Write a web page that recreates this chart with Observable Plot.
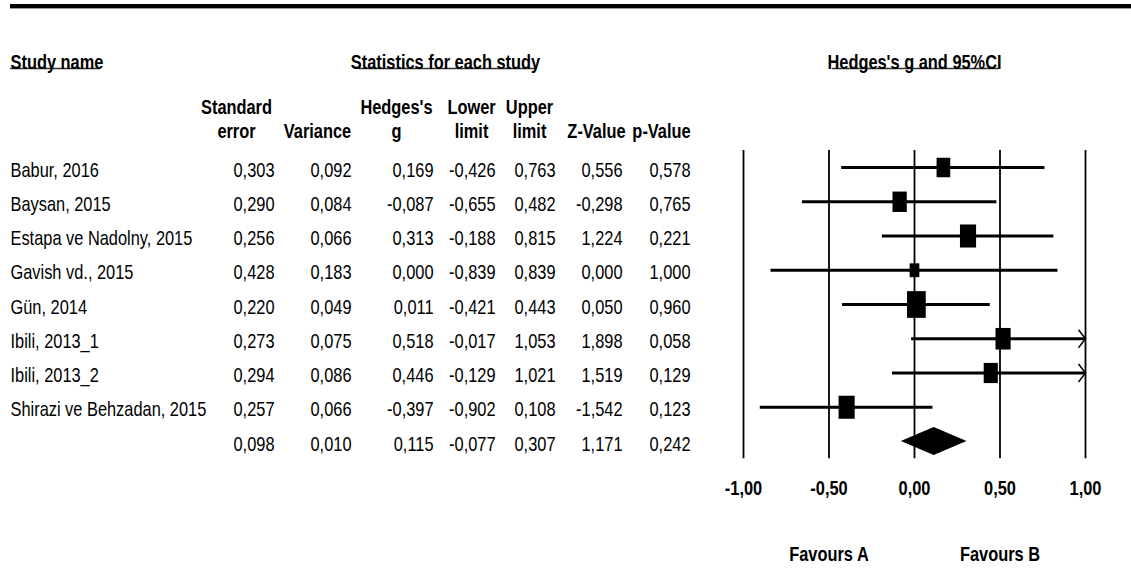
<!DOCTYPE html>
<html>
<head>
<meta charset="utf-8">
<script src="https://cdn.jsdelivr.net/npm/d3@7"></script>
<script src="https://cdn.jsdelivr.net/npm/@observablehq/plot@0.6"></script>
<style>
  body { margin: 0; background: #fff; }
  #chart { position: relative; width: 1131px; height: 574px; overflow: hidden; }
  #chart .topbar { position: absolute; left: 10px; right: 0; top: 4px; height: 4px; background: #000; border-bottom: 1px solid #999; }
  #chart svg { position: absolute; left: 0; top: 0; }
</style>
</head>
<body>
<div id="chart"><div class="topbar"></div></div>
<script>
// Study-level statistics (last entry is the pooled estimate)
const studies = ["Babur, 2016", "Baysan, 2015", "Estapa ve Nadolny, 2015", "Gavish vd., 2015", "Gün, 2014", "Ibili, 2013_1", "Ibili, 2013_2", "Shirazi ve Behzadan, 2015", ""];
const standardError = [0.303, 0.290, 0.256, 0.428, 0.220, 0.273, 0.294, 0.257, 0.098];
const variance = [0.092, 0.084, 0.066, 0.183, 0.049, 0.075, 0.086, 0.066, 0.010];
const hedgesG = [0.169, -0.087, 0.313, 0.000, 0.011, 0.518, 0.446, -0.397, 0.115];
const lowerLimit = [-0.426, -0.655, -0.188, -0.839, -0.421, -0.017, -0.129, -0.902, -0.077];
const upperLimit = [0.763, 0.482, 0.815, 0.839, 0.443, 1.053, 1.021, 0.108, 0.307];
const zValue = [0.556, -0.298, 1.224, 0.000, 0.050, 1.898, 1.519, -1.542, 1.171];
const pValue = [0.578, 0.765, 0.221, 1.000, 0.960, 0.058, 0.129, 0.123, 0.242];

const axisTicks = [-1, -0.5, 0, 0.5, 1];
const favourLabels = ["Favours A", "Favours B"];
const favourAt = [-0.5, 0.5];

const headingTitles = ["Study name", "Statistics for each study", "Hedges's g and 95%CI"];
const columnHeadTop = ["Standard", "", "Hedges's", "Lower", "Upper", "", ""];
const columnHeadBottom = ["error", "Variance", "g", "limit", "limit", "Z-Value", "p-Value"];

// Layout of the table (pixel positions)
const columnRight = [274, 351, 433, 495, 555, 622, 690];
const columnCenter = [236, 317, 396, 471, 529, 596, 661];
const headingSpan = [[10, 100], [359, 535], [832, 998]];
const headingAnchor = [{dx: 10, anchor: "start"}, {dx: 445, anchor: "middle"}, {dx: 914, anchor: "middle"}];
const FONT = "'Liberation Sans', Arial, sans-serif";
const FS = 21;
const NARROW = 0.78; // horizontal squeeze for a narrow face

// Pixel frame of the forest panel
const xRange = [743, 1085];
const yRange = [167, 441];
const xPx = d3.scaleLinear([-1, 1], xRange);
const yPx = d3.scaleLinear([0, 8], yRange);

const locale = d3.formatLocale({decimal: ",", thousands: ".", grouping: [3], currency: ["", ""], minus: "-"});
const f3 = locale.format(".3f");
const f2 = locale.format(".2f");

const rows = studies.map((name, i) => ({
  row: i,
  name,
  se: standardError[i],
  variance: variance[i],
  g: hedgesG[i],
  lower: lowerLimit[i],
  upper: upperLimit[i],
  z: zValue[i],
  p: pValue[i],
  end: Math.min(upperLimit[i], 1)
}));
const studyRows = rows.slice(0, 8);
const pooled = rows[8];

// Weight box: area proportional to inverse variance, taller than wide
const box = {
  draw(ctx, size) {
    const h = Math.sqrt(size / 0.7), w = 0.7 * h;
    ctx.rect(-w / 2, -h / 2, w, h);
  }
};
// Open arrow head for intervals running past the axis limit
const chevron = {
  draw(ctx) {
    ctx.moveTo(-7, -9);
    ctx.lineTo(0, 0);
    ctx.lineTo(-7, 9);
  }
};

// Diamond for the pooled estimate
const diamondHalf = 0.41;
const diamond = [
  {x: pooled.lower, y1: pooled.row, y2: pooled.row},
  {x: pooled.g, y1: pooled.row - diamondHalf, y2: pooled.row + diamondHalf},
  {x: pooled.upper, y1: pooled.row, y2: pooled.row}
];

const underlines = headingSpan.map(([a, b]) => ({x1: xPx.invert(a), x2: xPx.invert(b), y: yPx.invert(68)}));

const valueColumns = [
  d => f3(d.se), d => f3(d.variance), d => f3(d.g), d => f3(d.lower),
  d => f3(d.upper), d => f3(d.z), d => f3(d.p)
];

const marks = [
  // reference lines
  Plot.ruleX(axisTicks, {x: d => d, y1: -0.5, y2: 8.5, stroke: "#000", strokeWidth: 1.8}),
  // confidence intervals
  Plot.ruleY(studyRows, {y: "row", x1: "lower", x2: "end", stroke: "#000", strokeWidth: 3}),
  Plot.dot(studyRows.filter(d => d.upper > 1), {x: "end", y: "row", symbol: chevron, r: 9, stroke: "#000", fill: "none", strokeWidth: 1.5}),
  // weighted point estimates
  Plot.dot(studyRows, {x: "g", y: "row", r: d => Math.sqrt(24.5 / d.variance / Math.PI), symbol: box, fill: "#000", stroke: "none"}),
  Plot.areaY(diamond, {x: "x", y1: "y1", y2: "y2", fill: "#000"}),
  // axis
  Plot.axisX(axisTicks, {tickFormat: f2, tickSize: 0, tickPadding: 3, fontSize: FS, fontWeight: "bold", label: null}),
  Plot.text(favourLabels, {x: (d, i) => favourAt[i], text: d => d, frameAnchor: "bottom", dy: 83, fontSize: FS, fontWeight: "bold"}),
  // study names
  Plot.text(studyRows, {y: "row", text: "name", frameAnchor: "left", dx: 10, dy: 2.5, textAnchor: "start", fontSize: FS}),
  // heading underlines
  Plot.ruleY(underlines, {x1: "x1", x2: "x2", y: "y", stroke: "#333", strokeWidth: 1.5})
];

headingTitles.forEach((t, i) => {
  marks.push(Plot.text([t], {text: d => d, frameAnchor: "top-left", dx: headingAnchor[i].dx, dy: 54, textAnchor: headingAnchor[i].anchor, fontSize: FS, fontWeight: "bold"}));
});
columnHeadTop.forEach((t, i) => {
  if (t) marks.push(Plot.text([t], {text: d => d, frameAnchor: "top-left", dx: columnCenter[i], dy: 99, textAnchor: "middle", fontSize: FS, fontWeight: "bold"}));
});
columnHeadBottom.forEach((t, i) => {
  marks.push(Plot.text([t], {text: d => d, frameAnchor: "top-left", dx: columnCenter[i], dy: 123, textAnchor: "middle", fontSize: FS, fontWeight: "bold"}));
});
valueColumns.forEach((fn, i) => {
  marks.push(Plot.text(rows, {y: "row", text: fn, frameAnchor: "left", dx: columnRight[i], dy: 2.5, textAnchor: "end", fontSize: FS}));
});

const chart = Plot.plot({
  width: 1131,
  height: 574,
  marginLeft: 0,
  marginRight: 0,
  marginTop: 0,
  marginBottom: 97,
  style: {fontFamily: FONT, fontSize: `${FS}px`, color: "#000", background: "transparent"},
  x: {domain: [-1, 1], range: xRange, axis: null},
  y: {domain: [0, 8], range: yRange, axis: null},
  r: {type: "identity"},
  marks
});
document.getElementById("chart").appendChild(chart);

// Condense every label horizontally, keeping its anchor
chart.querySelectorAll("text").forEach((t) => {
  if (!t.textContent) return;
  const w = t.getComputedTextLength();
  if (w > 0) {
    t.setAttribute("textLength", (w * NARROW).toFixed(2));
    t.setAttribute("lengthAdjust", "spacingAndGlyphs");
  }
});
</script>
</body>
</html>
